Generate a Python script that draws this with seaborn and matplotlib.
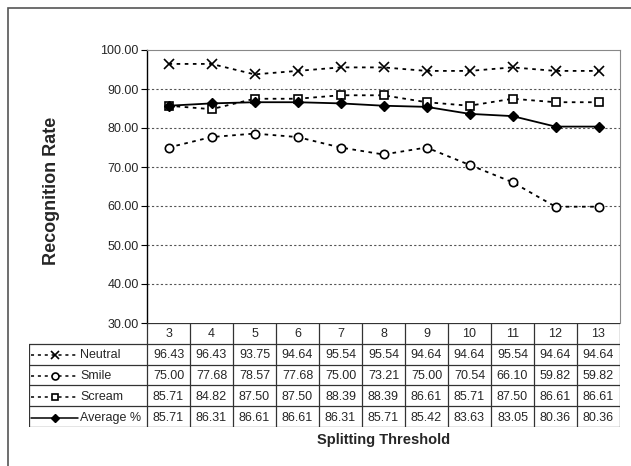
import numpy as np
import pandas as pd
import seaborn as sns
import matplotlib.pyplot as plt
from matplotlib.lines import Line2D
from matplotlib.patches import Rectangle

thresholds = [3, 4, 5, 6, 7, 8, 9, 10, 11, 12, 13]
neutral = [96.43, 96.43, 93.75, 94.64, 95.54, 95.54, 94.64, 94.64, 95.54, 94.64, 94.64]
smile = [75.00, 77.68, 78.57, 77.68, 75.00, 73.21, 75.00, 70.54, 66.10, 59.82, 59.82]
scream = [85.71, 84.82, 87.50, 87.50, 88.39, 88.39, 86.61, 85.71, 87.50, 86.61, 86.61]
average = [85.71, 86.31, 86.61, 86.61, 86.31, 85.71, 85.42, 83.63, 83.05, 80.36, 80.36]
series_names = ["Neutral", "Smile", "Scream", "Average %"]

sns.set_style("white")
plt.rcParams["font.family"] = ["Liberation Sans", "DejaVu Sans"]

W, H = 631, 466
fig = plt.figure(figsize=(W / 100, H / 100), dpi=100)

# outer chart frame
fig.patches.append(Rectangle((8 / W, -0.1), 1.2, (H - 8) / H + 0.1, transform=fig.transFigure,
                             fill=False, edgecolor="#555555", linewidth=1.2))

px_left, px_right, px_top, px_bot = 147, 620, 50, 323
ax = fig.add_axes([px_left / W, 1 - px_bot / H, (px_right - px_left) / W, (px_bot - px_top) / H])

dots = (0, (2, 2.5))
styles = {
    "Neutral": dict(marker="x", linestyle=dots, markersize=7, mew=1.2,
                    mfc="none", mec="black"),
    "Smile": dict(marker="o", linestyle=dots, markersize=6, mew=1.2,
                  mfc="white", mec="black"),
    "Scream": dict(marker="s", linestyle=dots, markersize=6, mew=1.2,
                   mfc="white", mec="black"),
    "Average %": dict(marker="D", linestyle="-", markersize=5, mew=1,
                      mfc="black", mec="black"),
}
data = {"Neutral": neutral, "Smile": smile, "Scream": scream, "Average %": average}

for name in series_names:
    df = pd.DataFrame({"t": thresholds, "v": data[name]})
    sns.lineplot(data=df, x="t", y="v", ax=ax, color="black", linewidth=1.3,
                 **styles[name])

ax.set_xlim(2.5, 13.5)
ax.set_ylim(30, 100)
ax.set_yticks(np.arange(30, 101, 10))
ax.set_yticklabels([f"{v:.2f}" for v in np.arange(30, 101, 10)], fontsize=9)
ax.set_xticks([])
ax.set_xlabel("")
ax.set_ylabel("")
for y in range(40, 100, 10):
    ax.axhline(y, color="#555555", linestyle=(0, (2, 2)), linewidth=0.8, zorder=0)
ax.tick_params(axis="y", left=True, length=4, width=0.8, color="black", pad=2)
ax.spines["left"].set_color("black")
ax.spines["left"].set_linewidth(1.0)
for s in ["top", "right"]:
    ax.spines[s].set_color("#888888")
    ax.spines[s].set_linewidth(0.8)
ax.spines["bottom"].set_visible(False)

fig.text(52 / W, 1 - 191 / H, "Recognition Rate", rotation=90, ha="center", va="center",
         fontsize=13, fontweight="bold")
fig.text((px_left + px_right) / 2 / W, 1 - 440 / H, "Splitting Threshold", ha="center",
         va="center", fontsize=10.5, fontweight="bold")

# data table
tab_left, tab_top, tab_bot = 29, 323, 427
unit = (px_right - px_left) / 11
tx0 = 2.5 - (px_left - tab_left) / unit
tax = fig.add_axes([tab_left / W, 1 - tab_bot / H, (px_right - tab_left) / W, (tab_bot - tab_top) / H])
tax.set_xlim(tx0, 13.5)
tax.set_ylim(5, 0)
tax.axis("off")

lc = "#333333"
# horizontal lines
tax.plot([2.5, 13.5], [0, 0], color=lc, lw=0.9)
for r in range(1, 6):
    tax.plot([tx0, 13.5], [r, r], color=lc, lw=0.9)
# vertical lines
for xv in np.arange(2.5, 14.5, 1):
    tax.plot([xv, xv], [0, 5], color=lc, lw=0.9)
tax.plot([tx0, tx0], [1, 5], color=lc, lw=0.9)

for t in thresholds:
    tax.text(t, 0.52, str(t), ha="center", va="center", fontsize=9)

for i, name in enumerate(series_names):
    yr = i + 1.55
    vals = data[name]
    for t, v in zip(thresholds, vals):
        tax.text(t, yr, f"{v:.2f}", ha="center", va="center", fontsize=9)
    st = styles[name]
    x_a = tx0 + 2 / unit
    x_b = tx0 + 49 / unit
    x_m = tx0 + 26 / unit
    tax.add_line(Line2D([x_a, x_b], [yr, yr], color="black", lw=1.1, linestyle=st["linestyle"]))
    tax.add_line(Line2D([x_m], [yr], marker=st["marker"], markersize=st["markersize"] - 1,
                        mfc=st["mfc"], mec="black", mew=st["mew"], color="black"))
    tax.text(tx0 + 51 / unit, yr, name, ha="left", va="center", fontsize=9)

fig.savefig("out.png", dpi=100)
